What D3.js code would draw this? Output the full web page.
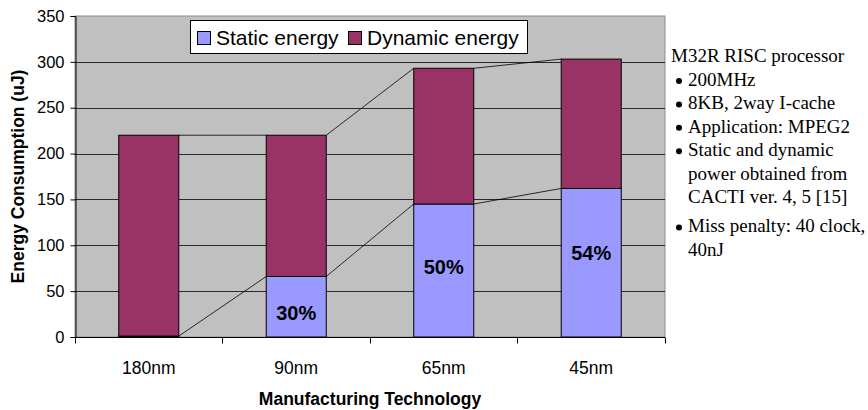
<!DOCTYPE html>
<html><head><meta charset="utf-8">
<script src="https://cdn.jsdelivr.net/npm/d3@7"></script>
<style>
html,body{margin:0;padding:0;background:#fff;}
svg{display:block;}
</style></head>
<body><svg id="c" width="868" height="410"></svg>
<script>
const categories = ["180nm", "90nm", "65nm", "45nm"];
const staticEnergy = [1, 66, 145, 162];
const dynamicEnergy = [219, 154, 148, 141];
const pctLabels = ["", "30%", "50%", "54%"];
const pctLabelValue = [0, 18.5, 68.4, 84];
const yTicks = [0, 50, 100, 150, 200, 250, 300, 350];
const seriesNames = ["Static energy", "Dynamic energy"];
const seriesColors = ["#9999FF", "#993366"];
const noteTitle = "M32R RISC processor";
const noteItems = [
  ["200MHz"],
  ["8KB, 2way I-cache"],
  ["Application: MPEG2"],
  ["Static and dynamic", "power obtained from", "CACTI ver. 4, 5 [15]"],
  ["Miss penalty: 40 clock,", "40nJ"]
];

const svg = d3.select("#c");
const sans = "'Liberation Sans', Arial, sans-serif";
const serif = "'Liberation Serif', 'Times New Roman', serif";
const L = 75, R = 665, T = 16, B = 337;

const x = d3.scaleBand().domain(categories).range([L, R]).paddingInner(0.593).paddingOuter(0.2966);
const y = d3.scaleLinear().domain([0, 350]).range([B, T]);

// plot background
svg.append("rect").attr("x", L).attr("y", T).attr("width", R - L).attr("height", B - T)
  .attr("fill", "#C0C0C0").attr("stroke", "#8c8c8c").attr("stroke-width", 1);

// gridlines
svg.append("g").selectAll("line").data(yTicks.filter(d => d > 0 && d < 350)).join("line")
  .attr("x1", L).attr("x2", R).attr("y1", d => Math.round(y(d)) + 0.5).attr("y2", d => Math.round(y(d)) + 0.5)
  .attr("stroke", "#2a2a2a").attr("stroke-width", 1);

// stacked data
const stackData = categories.map((c, i) => ({ cat: c, s: staticEnergy[i], d: dynamicEnergy[i] }));
const stacked = d3.stack().keys(["s", "d"])(stackData);

// series lines
const lineG = svg.append("g");
stacked.forEach(layer => {
  for (let i = 0; i < categories.length - 1; i++) {
    const a = layer[i][1], b = layer[i + 1][1];
    lineG.append("line")
      .attr("x1", x(categories[i]) + x.bandwidth()).attr("y1", y(a))
      .attr("x2", x(categories[i + 1])).attr("y2", y(b))
      .attr("stroke", "#000").attr("stroke-width", 0.8);
  }
});

// bars
svg.append("g").selectAll("g").data(stacked).join("g")
  .attr("fill", (d, i) => seriesColors[i])
  .selectAll("rect").data(d => d).join("rect")
  .attr("x", d => x(d.data.cat)).attr("width", x.bandwidth())
  .attr("y", d => y(d[1])).attr("height", d => y(d[0]) - y(d[1]))
  .attr("stroke", "#000").attr("stroke-width", 1);

// percent labels
svg.append("g").selectAll("text").data(categories).join("text")
  .attr("x", d => x(d) + x.bandwidth() / 2)
  .attr("y", (d, i) => y(pctLabelValue[i]))
  .attr("text-anchor", "middle")
  .attr("font-family", sans).attr("font-weight", "bold").attr("font-size", 20)
  .text((d, i) => pctLabels[i]);

// y axis
const yAxis = d3.axisLeft(y).tickValues(yTicks).tickSize(5).tickPadding(6);
const gy = svg.append("g").attr("transform", `translate(${L + 0.5},0)`).call(yAxis);
gy.select(".domain").attr("stroke", "#000");
gy.selectAll(".tick line").attr("stroke", "#000");
gy.selectAll("text").attr("font-family", sans).attr("font-size", 16.5).attr("fill", "#000");

// x axis (ticks between categories)
const gx = svg.append("g").attr("transform", `translate(0,${B + 0.5})`);
gx.append("line").attr("x1", L).attr("x2", R).attr("stroke", "#000");
const bounds = d3.range(categories.length + 1).map(i => L + i * x.step());
gx.selectAll(".tk").data(bounds).join("line").attr("class", "tk")
  .attr("x1", d => Math.round(d) + 0.5).attr("x2", d => Math.round(d) + 0.5)
  .attr("y1", 0).attr("y2", 6).attr("stroke", "#000");
gx.selectAll("text").data(categories).join("text")
  .attr("x", d => x(d) + x.bandwidth() / 2).attr("y", 36)
  .attr("text-anchor", "middle").attr("font-family", sans).attr("font-size", 17.5)
  .text(d => d);

// axis titles
svg.append("text").attr("x", (L + R) / 2).attr("y", 405).attr("text-anchor", "middle")
  .attr("font-family", sans).attr("font-weight", "bold").attr("font-size", 17.5)
  .text("Manufacturing Technology");
svg.append("text").attr("transform", `translate(24,${(T + B) / 2}) rotate(-90)`)
  .attr("text-anchor", "middle").attr("font-family", sans).attr("font-weight", "bold").attr("font-size", 17.5)
  .text("Energy Consumption (uJ)");

// legend
const lg = svg.append("g");
lg.append("rect").attr("x", 190.5).attr("y", 20.5).attr("width", 337).attr("height", 33)
  .attr("fill", "#fff").attr("stroke", "#000");
const legX = [197, 348];
seriesNames.forEach((n, i) => {
  lg.append("rect").attr("x", legX[i] + 0.5).attr("y", 31.5).attr("width", 13).attr("height", 13)
    .attr("fill", seriesColors[i]).attr("stroke", "#000");
  lg.append("text").attr("x", legX[i] + 19).attr("y", 44.5)
    .attr("font-family", sans).attr("font-size", 21).text(n);
});

// notes
const ng = svg.append("g").attr("font-family", serif).attr("font-size", 19).attr("fill", "#000");
ng.append("text").attr("x", 671).attr("y", 62).text(noteTitle);
let base = 86;
noteItems.forEach((item, k) => {
  ng.append("circle").attr("cx", 679).attr("cy", base - 5).attr("r", 3);
  item.forEach((ln, j) => {
    ng.append("text").attr("x", 688).attr("y", base).text(ln);
    base += 23.4;
  });
  if (k === 3) base += 6;
});
</script></body></html>
